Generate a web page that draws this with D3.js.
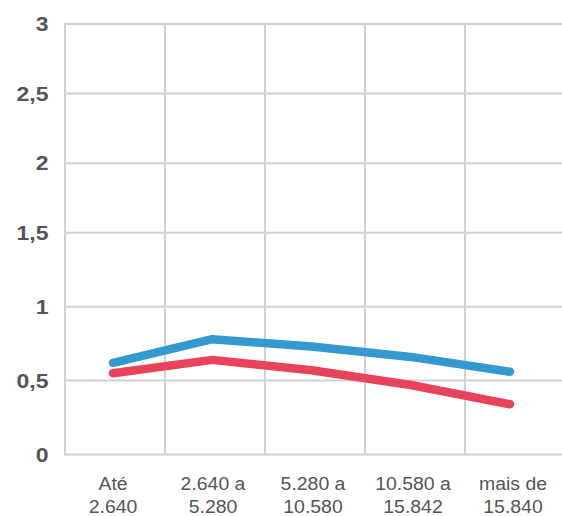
<!DOCTYPE html>
<html>
<head>
<meta charset="utf-8">
<script src="https://cdn.jsdelivr.net/npm/d3@7"></script>
<style>
  html, body { margin: 0; padding: 0; background: #fff; }
  svg { display: block; }
</style>
</head>
<body>
<svg id="chart" width="562" height="516"></svg>
<script>
// Income brackets (R$) along the horizontal axis
const categories = ["Até 2.640", "2.640 a 5.280", "5.280 a 10.580", "10.580 a 15.842", "mais de 15.840"];
const categoryLines = [["Até", "2.640"], ["2.640 a", "5.280"], ["5.280 a", "10.580"], ["10.580 a", "15.842"], ["mais de", "15.840"]];

// Two series
const seriesBlue = [0.62, 0.78, 0.73, 0.66, 0.56];
const seriesRed = [0.55, 0.64, 0.57, 0.47, 0.34];

// Vertical axis ticks and their labels
const yTicks = [0, 0.5, 1, 1.5, 2, 2.5, 3];
const yTickLabels = ["0", "0,5", "1", "1,5", "2", "2,5", "3"];

const svg = d3.select("#chart");

const plotLeft = 65, plotRight = 565, plotTop = 24, plotBottom = 454.5;

// Bands for grid columns and category labels
const xBand = d3.scaleBand().domain(categories).range([plotLeft, plotRight]).paddingInner(0).paddingOuter(0);
// Points for the series lines
const xPoint = d3.scalePoint().domain(categories).range([113, 510]);

const y = d3.scaleLinear().domain([0, 1.5, 3]).range([plotBottom, 232.7, plotTop]);

const gridColor = "#d2d2d2";

// Horizontal gridlines
svg.append("g")
  .selectAll("line")
  .data(yTicks)
  .join("line")
  .attr("x1", plotLeft - 1)
  .attr("x2", plotRight)
  .attr("y1", d => y(d))
  .attr("y2", d => y(d))
  .attr("stroke", gridColor)
  .attr("stroke-width", 2);

// Vertical gridlines at band edges
const colEdges = categories.map(c => xBand(c)).concat([plotRight]);
svg.append("g")
  .selectAll("line")
  .data(colEdges)
  .join("line")
  .attr("x1", d => d)
  .attr("x2", d => d)
  .attr("y1", plotTop - 1)
  .attr("y2", plotBottom + 1)
  .attr("stroke", gridColor)
  .attr("stroke-width", 2);

// Y tick labels
svg.append("g")
  .selectAll("text")
  .data(yTicks)
  .join("text")
  .attr("transform", d => `translate(48.5, ${y(d) + 7}) scale(1.15, 1)`)
  .attr("text-anchor", "end")
  .attr("font-family", "'Liberation Sans', Arial, Helvetica, sans-serif")
  .attr("font-weight", "bold")
  .attr("font-size", 20)
  .attr("fill", "#555")
  .text((d, i) => yTickLabels[i]);

// X category labels (two lines each)
const xLabels = svg.append("g")
  .selectAll("text")
  .data(categories)
  .join("text")
  .attr("text-anchor", "middle")
  .attr("font-family", "'Liberation Sans', Arial, Helvetica, sans-serif")
  .attr("font-size", 18.5)
  .attr("fill", "#555")
  .attr("transform", d => `translate(${xBand(d) + xBand.bandwidth() / 2 - 2}, 0) scale(1.05, 1)`);

xLabels.selectAll("tspan")
  .data((d, i) => categoryLines[i])
  .join("tspan")
  .attr("x", 0)
  .attr("y", (d, j) => 490 + j * 22.7)
  .text(d => d);

// Series lines
const line = d3.line()
  .x((d, i) => xPoint(categories[i]))
  .y(d => y(d));

const series = [
  { values: seriesRed, color: "#e8435a" },
  { values: seriesBlue, color: "#3499ce" }
];

svg.append("g")
  .selectAll("path")
  .data(series)
  .join("path")
  .attr("d", d => line(d.values))
  .attr("fill", "none")
  .attr("stroke", d => d.color)
  .attr("stroke-width", 8.5)
  .attr("stroke-linecap", "round")
  .attr("stroke-linejoin", "round");
</script>
</body>
</html>
